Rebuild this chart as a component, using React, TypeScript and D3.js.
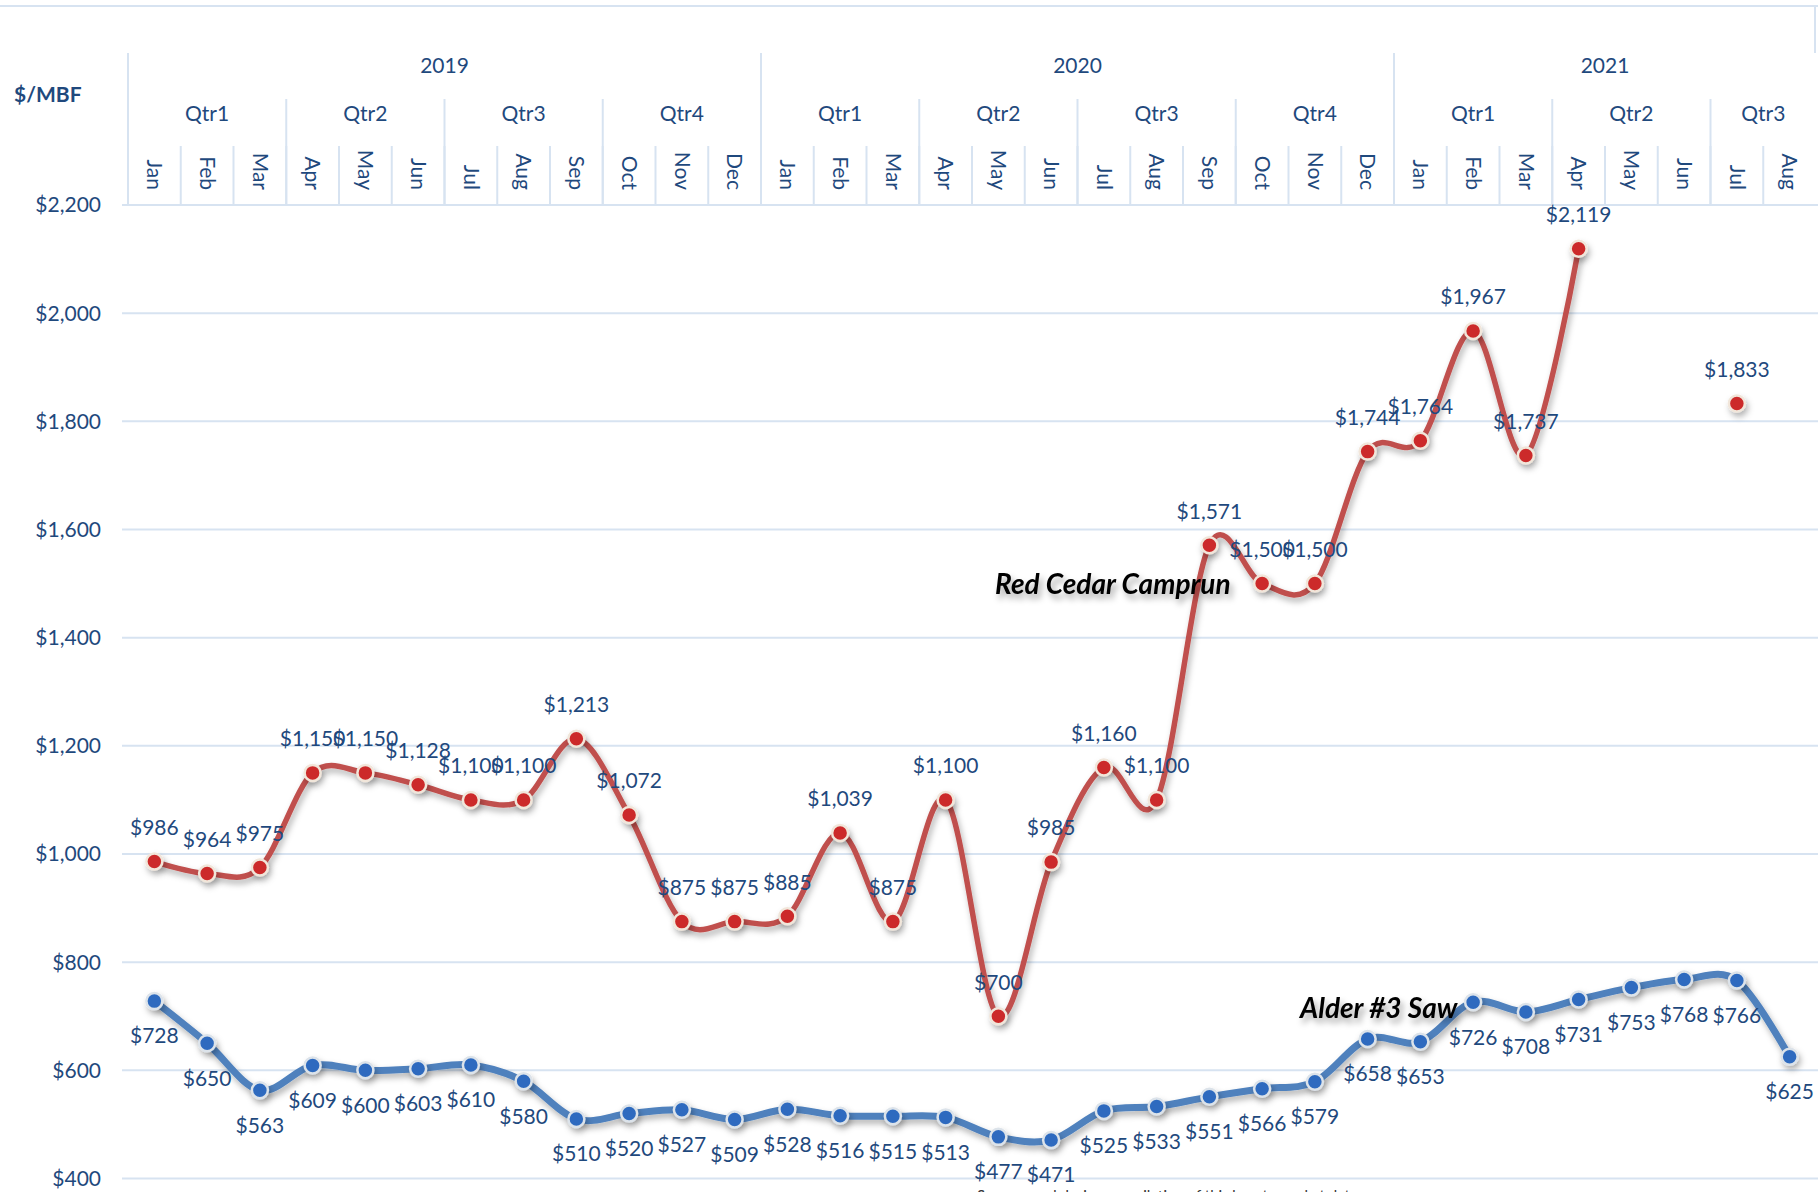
import { useEffect, useRef } from "react";
import * as d3 from "d3";

const MONTHS = [
  "Jan", "Feb", "Mar", "Apr", "May", "Jun", "Jul", "Aug", "Sep", "Oct", "Nov", "Dec",
  "Jan", "Feb", "Mar", "Apr", "May", "Jun", "Jul", "Aug", "Sep", "Oct", "Nov", "Dec",
  "Jan", "Feb", "Mar", "Apr", "May", "Jun", "Jul", "Aug",
];
const YEARS = ["2019", "2020", "2021"];
const YEAR_SPANS = [12, 12, 8];
const QUARTERS = ["Qtr1", "Qtr2", "Qtr3", "Qtr4", "Qtr1", "Qtr2", "Qtr3", "Qtr4", "Qtr1", "Qtr2", "Qtr3"];
const QUARTER_SPANS = [3, 3, 3, 3, 3, 3, 3, 3, 3, 3, 2];

const RED_CEDAR: (number | null)[] = [
  986, 964, 975, 1150, 1150, 1128, 1100, 1100, 1213, 1072, 875, 875,
  885, 1039, 875, 1100, 700, 985, 1160, 1100, 1571, 1500, 1500, 1744,
  1764, 1967, 1737, 2119, null, null, 1833, null,
];
const ALDER: number[] = [
  728, 650, 563, 609, 600, 603, 610, 580, 510, 520, 527, 509,
  528, 516, 515, 513, 477, 471, 525, 533, 551, 566, 579, 658,
  653, 726, 708, 731, 753, 768, 766, 625,
];
const Y_TICKS = [400, 600, 800, 1000, 1200, 1400, 1600, 1800, 2000, 2200];

const W = 1818;
const H = 1192;
const TEXT = "#1F497D";
const GRID = "#D7E3F1";
const RED = "#C0504D";
const BLUE = "#4F81BD";
const FONT = "Lato, 'Open Sans', sans-serif";
const FS = "21px";

const fmt = (v: number) => "$" + d3.format(",")(v);

function buildChart(svgEl: SVGSVGElement) {
  const svg = d3.select(svgEl);
  svg.selectAll("*").remove();
  svg.attr("width", W).attr("height", H).style("font-family", FONT);

  const defs = svg.append("defs");
  const shadow = defs.append("filter").attr("id", "line-shadow")
    .attr("x", "-10%").attr("y", "-10%").attr("width", "120%").attr("height", "130%");
  shadow.append("feDropShadow").attr("dx", 2).attr("dy", 4).attr("stdDeviation", 3)
    .attr("flood-color", "#000").attr("flood-opacity", 0.3);
  const txtShadow = defs.append("filter").attr("id", "text-shadow")
    .attr("x", "-10%").attr("y", "-40%").attr("width", "130%").attr("height", "200%");
  txtShadow.append("feDropShadow").attr("dx", 3).attr("dy", 5).attr("stdDeviation", 3)
    .attr("flood-color", "#000").attr("flood-opacity", 0.35);

  const x = d3.scaleBand<number>().domain(d3.range(MONTHS.length)).range([128, 1816]);
  const cx = (i: number) => (x(i) as number) + x.bandwidth() / 2;
  const y = d3.scaleLinear().domain([400, 2200]).range([1178.5, 205]);

  // top border
  svg.append("line").attr("x1", 0).attr("x2", W).attr("y1", 6).attr("y2", 6)
    .attr("stroke", GRID).attr("stroke-width", 2);
  svg.append("line").attr("x1", 1815).attr("x2", 1815).attr("y1", 6).attr("y2", 53)
    .attr("stroke", GRID).attr("stroke-width", 2);

  // gridlines
  svg.append("g").selectAll("line").data(Y_TICKS).join("line")
    .attr("x1", 122).attr("x2", W)
    .attr("y1", d => y(d)).attr("y2", d => y(d))
    .attr("stroke", GRID).attr("stroke-width", 2);

  // y tick labels
  svg.append("g").selectAll("text").data(Y_TICKS).join("text")
    .attr("x", 101).attr("y", d => y(d)).attr("dy", "0.35em")
    .attr("text-anchor", "end").attr("fill", TEXT).style("font-size", FS)
    .text(d => fmt(d));

  svg.append("text").attr("x", 14).attr("y", 95).attr("dy", "0.35em")
    .attr("fill", TEXT).style("font-size", FS).style("font-weight", 700)
    .text("$/MBF");

  // multi-level category header
  const hdr = svg.append("g");
  MONTHS.forEach((m, i) => {
    hdr.append("line").attr("x1", x(i) as number).attr("x2", x(i) as number)
      .attr("y1", 146).attr("y2", 205).attr("stroke", GRID).attr("stroke-width", 2);
    hdr.append("text")
      .attr("transform", `translate(${cx(i)},190) rotate(90)`)
      .attr("text-anchor", "end").attr("dy", "0.35em")
      .attr("fill", TEXT).style("font-size", FS)
      .text(m);
  });

  let qi = 0;
  QUARTERS.forEach((q, k) => {
    const span = QUARTER_SPANS[k];
    const x0 = x(qi) as number;
    hdr.append("line").attr("x1", x0).attr("x2", x0).attr("y1", 99).attr("y2", 205)
      .attr("stroke", GRID).attr("stroke-width", 2);
    hdr.append("text").attr("x", x0 + (span * x.bandwidth()) / 2).attr("y", 114).attr("dy", "0.35em")
      .attr("text-anchor", "middle").attr("fill", TEXT).style("font-size", FS).text(q);
    qi += span;
  });

  let yi = 0;
  YEARS.forEach((yr, k) => {
    const span = YEAR_SPANS[k];
    const x0 = x(yi) as number;
    hdr.append("line").attr("x1", x0).attr("x2", x0).attr("y1", 53).attr("y2", 205)
      .attr("stroke", GRID).attr("stroke-width", 2);
    hdr.append("text").attr("x", x0 + (span * x.bandwidth()) / 2).attr("y", 66).attr("dy", "0.35em")
      .attr("text-anchor", "middle").attr("fill", TEXT).style("font-size", FS).text(yr);
    yi += span;
  });

  // lines (Excel-style smoothing)
  const redLine = d3.line<number | null>()
    .defined(d => d != null)
    .x((_, i) => cx(i))
    .y(d => y(d as number))
    .curve(d3.curveCardinal.tension(0));
  const blueLine = d3.line<number>()
    .x((_, i) => cx(i))
    .y(d => y(d))
    .curve(d3.curveCardinal.tension(0));

  svg.append("path").datum(ALDER).attr("d", blueLine)
    .attr("fill", "none").attr("stroke", BLUE).attr("stroke-width", 7)
    .attr("filter", "url(#line-shadow)");
  svg.append("path").datum(RED_CEDAR).attr("d", redLine)
    .attr("fill", "none").attr("stroke", RED).attr("stroke-width", 5.5)
    .attr("filter", "url(#line-shadow)");

  // markers
  const redPts = RED_CEDAR.map((v, i) => ({ v, i })).filter(d => d.v != null) as { v: number; i: number }[];
  const bluePts = ALDER.map((v, i) => ({ v, i }));

  svg.append("g").attr("filter", "url(#line-shadow)").selectAll("circle").data(bluePts).join("circle")
    .attr("cx", d => cx(d.i)).attr("cy", d => y(d.v)).attr("r", 8)
    .attr("fill", "#2F6BBF").attr("stroke", "#DCE3EA").attr("stroke-width", 2.5);
  svg.append("g").attr("filter", "url(#line-shadow)").selectAll("circle").data(redPts).join("circle")
    .attr("cx", d => cx(d.i)).attr("cy", d => y(d.v)).attr("r", 8)
    .attr("fill", "#CC2B2B").attr("stroke", "#F1E6DA").attr("stroke-width", 2.5);

  // data labels
  svg.append("g").selectAll("text").data(redPts).join("text")
    .attr("x", d => cx(d.i)).attr("y", d => y(d.v) - 34).attr("dy", "0.35em")
    .attr("text-anchor", "middle").attr("fill", TEXT).style("font-size", FS)
    .text(d => fmt(d.v));
  svg.append("g").selectAll("text").data(bluePts).join("text")
    .attr("x", d => cx(d.i)).attr("y", d => y(d.v) + 35).attr("dy", "0.35em")
    .attr("text-anchor", "middle").attr("fill", TEXT).style("font-size", FS)
    .text(d => fmt(d.v));

  // series names
  svg.append("text").attr("x", 995).attr("y", 594)
    .attr("fill", "#000").style("font-size", "28px").style("font-weight", 700).style("font-style", "italic")
    .attr("filter", "url(#text-shadow)")
    .text("Red Cedar Camprun");
  svg.append("text").attr("x", 1300).attr("y", 1018)
    .attr("fill", "#000").style("font-size", "28px").style("font-weight", 700).style("font-style", "italic")
    .attr("filter", "url(#text-shadow)")
    .text("Alder #3 Saw");

  // source note, cut off by the bottom edge
  svg.append("text").attr("x", 977).attr("y", 1201)
    .attr("fill", "#333").style("font-size", "15px")
    .text("Sources and design compilation of third-party market data");
}

export default function App() {
  const svgRef = useRef<SVGSVGElement>(null);
  useEffect(() => {
    if (svgRef.current) buildChart(svgRef.current);
  }, []);
  return (
    <div style={{ position: "absolute", left: 0, top: 0, width: W, height: H, overflow: "hidden", background: "#fff" }}>
      <svg ref={svgRef} style={{ display: "block" }} />
    </div>
  );
}
